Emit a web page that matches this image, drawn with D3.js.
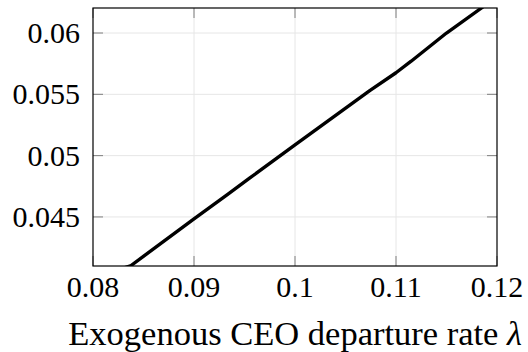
<!DOCTYPE html>
<html>
<head>
<meta charset="utf-8">
<script src="https://cdn.jsdelivr.net/npm/d3@7.9.0/dist/d3.min.js"></script>
</head>
<body style="margin:0">
<script>
// Departure rate lambda and the plotted outcome
const lambdaValues = [0.0800, 0.0837, 0.0900, 0.0933, 0.0955, 0.1000, 0.1074, 0.1100, 0.1115, 0.1150, 0.1184, 0.1200];
const outcomeValues = [0.0401, 0.0410, 0.04484, 0.04683, 0.04816, 0.05087, 0.0553, 0.05676, 0.0577, 0.0600, 0.0620, 0.0630];
const xTicks = [0.08, 0.09, 0.1, 0.11, 0.12];
const yTicks = [0.045, 0.05, 0.055, 0.06];
const xLabel = "Exogenous CEO departure rate ";

const width = 528, height = 352;
const margin = { top: 8, right: 31, bottom: 86, left: 93 };
const fontName = "Liberation Serif";

const svg = d3.select("body").append("svg")
    .attr("width", width).attr("height", height)
    .style("font-family", fontName);

const x = d3.scaleLinear().domain([0.08, 0.12]).range([margin.left, width - margin.right]);
const y = d3.scaleLinear().domain([0.041, 0.06204]).range([height - margin.bottom, margin.top]);

// grid
svg.append("g").selectAll("line").data(xTicks.slice(1, -1)).enter().append("line")
    .attr("x1", d => x(d)).attr("x2", d => x(d))
    .attr("y1", margin.top).attr("y2", height - margin.bottom)
    .attr("stroke", "#e6e6e6").attr("stroke-width", 1);
svg.append("g").selectAll("line").data(yTicks).enter().append("line")
    .attr("x1", margin.left).attr("x2", width - margin.right)
    .attr("y1", d => y(d)).attr("y2", d => y(d))
    .attr("stroke", "#e6e6e6").attr("stroke-width", 1);

// tick marks (inside, on all four sides)
const tickLen = 10;
const ticks = svg.append("g").attr("stroke", "#7f7f7f").attr("stroke-width", 1);
xTicks.forEach(t => {
    ticks.append("line").attr("x1", x(t)).attr("x2", x(t))
        .attr("y1", height - margin.bottom).attr("y2", height - margin.bottom - tickLen);
    ticks.append("line").attr("x1", x(t)).attr("x2", x(t))
        .attr("y1", margin.top).attr("y2", margin.top + tickLen);
});
yTicks.forEach(t => {
    ticks.append("line").attr("x1", margin.left).attr("x2", margin.left + tickLen)
        .attr("y1", y(t)).attr("y2", y(t));
    ticks.append("line").attr("x1", width - margin.right).attr("x2", width - margin.right - tickLen)
        .attr("y1", y(t)).attr("y2", y(t));
});

// clipped curve
svg.append("clipPath").attr("id", "clip").append("rect")
    .attr("x", margin.left).attr("y", margin.top)
    .attr("width", width - margin.left - margin.right)
    .attr("height", height - margin.top - margin.bottom);

const line = d3.line().x((d, i) => x(lambdaValues[i])).y(d => y(d));
svg.append("path")
    .datum(outcomeValues)
    .attr("clip-path", "url(#clip)")
    .attr("fill", "none")
    .attr("stroke", "#000")
    .attr("stroke-width", 3.4)
    .attr("stroke-linejoin", "round")
    .attr("d", line);

// frame
svg.append("rect")
    .attr("x", margin.left).attr("y", margin.top)
    .attr("width", width - margin.left - margin.right)
    .attr("height", height - margin.top - margin.bottom)
    .attr("fill", "none").attr("stroke", "#000").attr("stroke-width", 1.2);

// tick labels
svg.selectAll("text.xt").data(xTicks).enter().append("text")
    .attr("class", "xt")
    .attr("x", d => x(d)).attr("y", height - margin.bottom + 31)
    .attr("text-anchor", "middle")
    .attr("font-size", 30)
    .style("font-family", fontName)
    .text(d => String(d));
svg.selectAll("text.yt").data(yTicks).enter().append("text")
    .attr("class", "yt")
    .attr("x", margin.left - 13).attr("y", d => y(d) + 10)
    .attr("text-anchor", "end")
    .attr("font-size", 30)
    .style("font-family", fontName)
    .text(d => String(d));

// axis label
const lab = svg.append("text")
    .attr("x", 522).attr("y", 345)
    .attr("text-anchor", "end")
    .attr("font-size", 34.5)
    .style("font-family", fontName);
lab.append("tspan").text(xLabel);
lab.append("tspan").style("font-style", "italic").text("λ");
</script>
</body>
</html>
